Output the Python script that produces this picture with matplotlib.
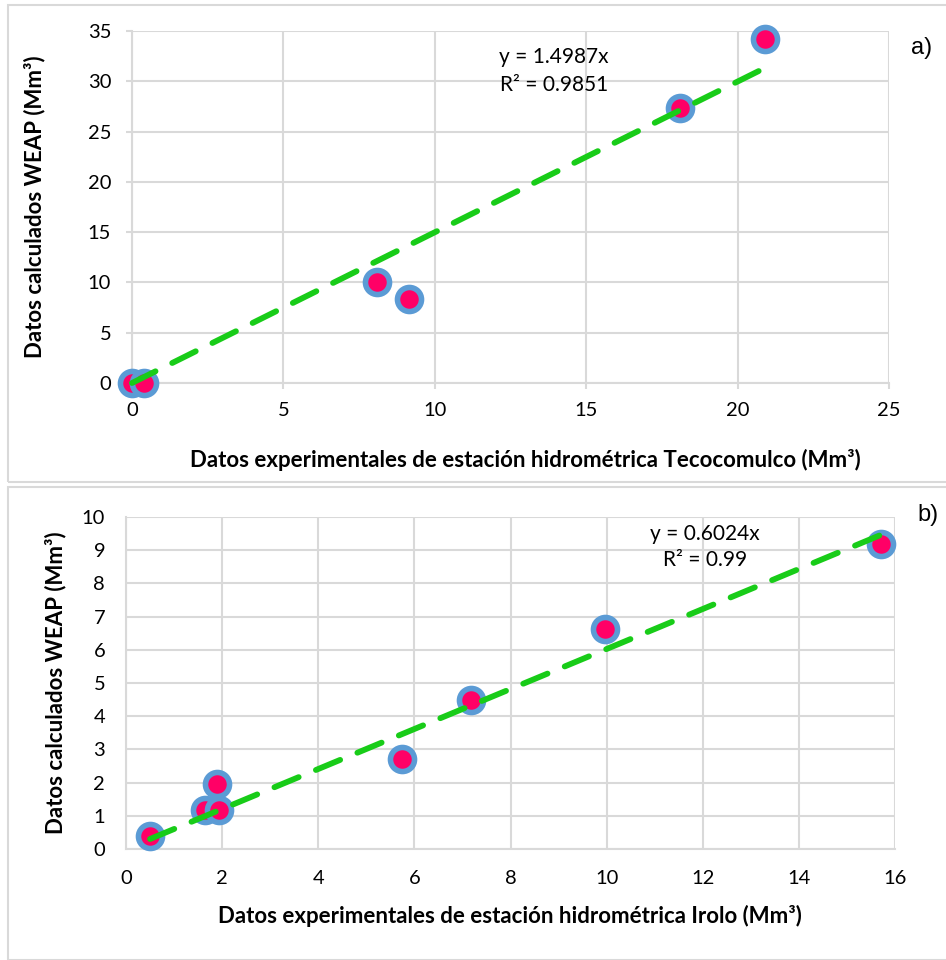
import numpy as np
import matplotlib
matplotlib.use("Agg")
import matplotlib.pyplot as plt
from matplotlib.patches import Rectangle

plt.rcParams['font.family'] = ['Lato', 'DejaVu Sans']

# panel a) Tecocomulco
obs_a = [0.0, 0.4, 8.1, 9.15, 18.1, 20.9]
sim_a = [0.0, 0.0, 10.0, 8.4, 27.3, 34.2]
slope_a = 1.4987
r2_a = "0.9851"

# panel b) Irolo
obs_b = [0.5, 1.65, 1.93, 1.89, 5.74, 7.18, 9.97, 15.7]
sim_b = [0.4, 1.17, 1.17, 1.95, 2.72, 4.49, 6.62, 9.2]
slope_b = 0.6024
r2_b = "0.99"

grid_c = "#D9D9D9"
face_c = "#FF0066"
edge_c = "#5B9BD5"
line_c = "#18CC18"

fig = plt.figure(figsize=(9.46, 9.60), dpi=100)

# outer frames of the two panels (as in the Excel export)
fig.patches.append(Rectangle((8/946, 1-482/960), 940/946, 477/960, transform=fig.transFigure,
                             fill=False, edgecolor=grid_c, linewidth=1.5))
fig.patches.append(Rectangle((8/946, 1-960/960), 940/946, 473/960, transform=fig.transFigure,
                             fill=False, edgecolor=grid_c, linewidth=1.5))


def panel(ax, x, y, slope, xmax, ymax, xstep, ystep, xlabel, ticks_out, x0):
    ax.set_xlim(0, xmax)
    ax.set_ylim(0, ymax)
    ax.set_xticks(np.arange(0, xmax + 0.1, xstep))
    ax.set_yticks(np.arange(0, ymax + 0.1, ystep))
    ax.grid(True, color=grid_c, linewidth=1.5)
    ax.set_axisbelow(True)
    for s in ax.spines.values():
        s.set_visible(False)
    for side in ['left', 'bottom']:
        ax.spines[side].set_visible(True)
        ax.spines[side].set_color(grid_c)
        ax.spines[side].set_linewidth(1.5)
    if ticks_out:
        ax.tick_params(length=4, width=1.5, color=grid_c, direction='out')
        ax.tick_params(axis='y', pad=11)
        ax.tick_params(axis='x', pad=10)
    else:
        ax.tick_params(length=0)
        ax.tick_params(axis='y', pad=15)
        ax.tick_params(axis='x', pad=15)
    ax.tick_params(labelsize=14.5, labelcolor='black')

    # trend line is drawn over the markers, as Excel does
    xs = np.array([x0, max(x)])
    ax.scatter(x, y, s=300, facecolor=face_c, edgecolor=edge_c, linewidth=4,
               zorder=3, clip_on=False)
    ax.plot(xs, slope * xs, color=line_c, linewidth=4.2, linestyle=(0, (4.5, 3.2)),
            dash_capstyle='round', zorder=4, clip_on=False)

    ax.set_ylabel("Datos calculados WEAP (Mm³)", fontsize=16, fontweight='bold')
    ax.set_xlabel(xlabel, fontsize=16, fontweight='bold')
    return ax


ax1 = fig.add_axes([132/946, 1-383/960, 757/946, 352/960])
panel(ax1, obs_a, sim_a, slope_a, 25, 35, 5, 5,
      "Datos experimentales de estación hidrométrica Tecocomulco (Mm³)", True, 0.0)
ax1.yaxis.set_label_coords(-0.115, 0.5)
ax1.xaxis.set_label_coords(0.519, -0.187)
fig.text(554/946, 1-57/960, "y = %.4fx" % slope_a, ha='center', va='center', fontsize=15)
fig.text(554/946, 1-85/960, "R² = " + r2_a, ha='center', va='center', fontsize=15)
fig.text(922/946, 1-48/960, "a)", ha='center', va='center', fontsize=17,
         family='Liberation Sans')

ax2 = fig.add_axes([126/946, 1-849/960, 769/946, 332/960])
panel(ax2, obs_b, sim_b, slope_b, 16, 10, 2, 1,
      "Datos experimentales de estación hidrométrica Irolo (Mm³)", False, min(obs_b))
ax2.yaxis.set_label_coords(-0.077, 0.5)
ax2.xaxis.set_label_coords(0.499, -0.169)
fig.text(705/946, 1-534/960, "y = %.4fx" % slope_b, ha='center', va='center', fontsize=15)
fig.text(705/946, 1-560/960, "R² = " + r2_b, ha='center', va='center', fontsize=15)
fig.text(928/946, 1-515/960, "b)", ha='center', va='center', fontsize=17,
         family='Liberation Sans')

fig.savefig("out.png", dpi=100)
